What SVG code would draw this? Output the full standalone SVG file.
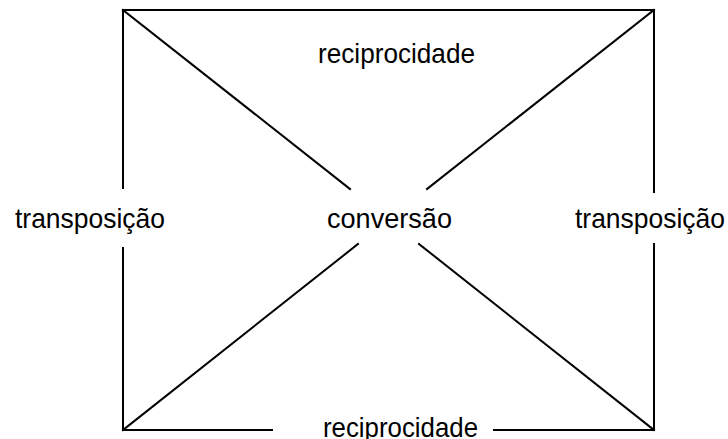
<svg xmlns="http://www.w3.org/2000/svg" width="728" height="439" viewBox="0 0 728 439">
<style>
.ln{stroke:#000;stroke-width:2;fill:none;stroke-linecap:square}
.t{font-family:"Liberation Sans",Arial,sans-serif;font-size:28px;fill:#000}
</style>
<rect width="728" height="439" fill="#fff"/>
<g id="connectors">
<line class="ln" x1="123" y1="10" x2="654" y2="10"/>
<line class="ln" x1="123" y1="10" x2="123" y2="188"/>
<line class="ln" x1="123" y1="248" x2="123" y2="430"/>
<line class="ln" x1="654" y1="10" x2="654" y2="192"/>
<line class="ln" x1="654" y1="244" x2="654" y2="430"/>
<line class="ln" x1="123" y1="430" x2="272" y2="430"/>
<line class="ln" x1="494" y1="430" x2="654" y2="430"/>
<line class="ln" x1="123" y1="10" x2="350" y2="189"/>
<line class="ln" x1="654" y1="10" x2="427" y2="189"/>
<line class="ln" x1="358" y1="244" x2="123" y2="430"/>
<line class="ln" x1="419" y1="244" x2="654" y2="430"/>
</g>
<g id="top-label"><text class="t" x="318" y="63" textLength="157" lengthAdjust="spacingAndGlyphs">reciprocidade</text></g>
<g id="bottom-label"><text class="t" x="323" y="437" textLength="155" lengthAdjust="spacingAndGlyphs">reciprocidade</text></g>
<g id="left-label"><text class="t" x="15" y="228" textLength="150" lengthAdjust="spacingAndGlyphs">transposição</text></g>
<g id="right-label"><text class="t" x="575" y="228" textLength="150" lengthAdjust="spacingAndGlyphs">transposição</text></g>
<g id="center-label"><text class="t" x="327" y="228" textLength="125" lengthAdjust="spacingAndGlyphs">conversão</text></g>
</svg>
